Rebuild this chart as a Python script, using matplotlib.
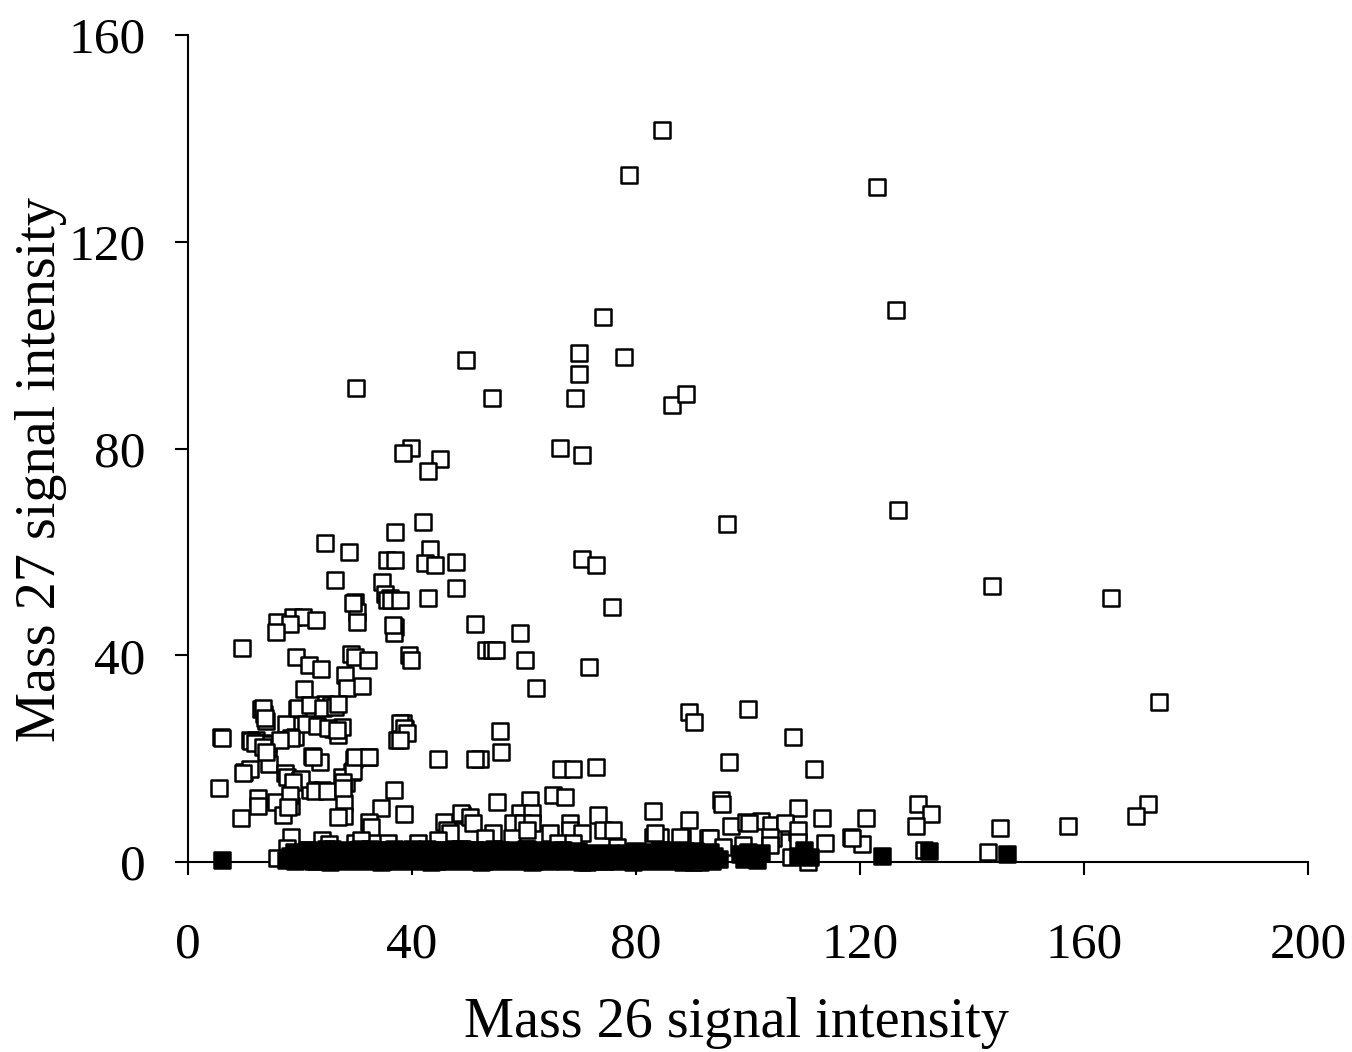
import matplotlib
matplotlib.use("Agg")
import matplotlib.pyplot as plt

plt.rcParams['font.family'] = ['Liberation Serif', 'DejaVu Serif']

# open squares: mass 27 vs mass 26
open_x = [84.6, 78.8, 123.0, 126.4, 74.1, 49.6, 69.8, 69.8, 77.9, 30.0,
          54.3, 69.1, 86.4, 88.9, 39.8, 38.4, 66.4, 70.4, 45.0, 42.9,
          96.3, 126.8, 42.0, 37.0, 24.5, 28.8, 43.2, 47.9, 35.5, 37.0,
          42.3, 44.1, 70.4, 72.9, 26.2, 34.6, 47.9, 35.2, 36.1, 42.9,
          75.7, 29.8, 30.2, 143.6, 164.8, 18.8, 20.5, 22.9, 15.9, 18.2,
          51.2, 15.7, 37.0, 36.8, 59.3, 53.2, 54.3, 55.0, 9.6, 19.3,
          29.1, 29.8, 32.1, 39.5, 39.9, 60.2, 21.6, 23.8, 71.6, 28.0,
          62.1, 20.7, 28.4, 31.1, 173.4, 13.0, 13.6, 24.5, 25.5, 19.5,
          22.3, 89.5, 90.4, 100.0, 13.9, 38.4, 38.8, 17.5, 21.3, 25.9,
          26.8, 5.9, 11.1, 12.1, 13.2, 14.3, 19.1, 27.5, 37.3, 55.7,
          108.0, 14.3, 22.1, 23.6, 29.6, 32.1, 44.6, 52.1, 55.9, 14.5,
          96.6, 111.8, 66.6, 68.8, 72.9, 10.0, 11.1, 17.3, 17.7, 20.0,
          29.3, 27.5, 28.2, 23.9, 21.8, 36.8, 12.5, 12.5, 15.7, 18.4,
          27.9, 34.5, 27.9, 65.2, 67.3, 95.2, 95.4, 130.4, 171.4, 169.3,
          132.7, 130.0, 145.0, 157.1, 9.5, 17.0, 38.6, 48.9, 61.1, 73.2,
          83.0, 89.5, 102.3, 108.9, 113.2, 121.1, 118.4, 120.4, 104.1, 106.6,
          108.8, 104.5, 142.9, 131.4, 97.0, 84.1, 92.9, 13.4, 13.8, 19.6,
          21.8, 24.1, 26.3, 26.8, 21.1, 23.0, 25.0, 26.6, 18.4, 16.4,
          6.1, 11.3, 12.0, 13.4, 13.9, 22.3, 9.8, 20.2, 18.8, 5.5,
          18.2, 17.9, 22.7, 24.8, 29.5, 27.7, 27.7, 29.8, 32.3, 26.8,
          32.3, 32.7, 18.4, 17.7, 15.9, 23.9, 25.2, 29.8, 30.9, 45.7,
          46.3, 46.8, 48.8, 50.4, 50.9, 51.3, 37.9, 38.6, 39.1, 37.9,
          36.6, 30.2, 29.5, 35.5, 36.3, 37.8, 55.2, 59.3, 61.4, 58.0,
          59.8, 61.4, 54.5, 53.0, 64.6, 68.2, 68.2, 74.1, 75.9, 70.4,
          83.0, 84.3, 88.2, 93.2, 95.5, 66.1, 68.8, 71.3, 90.2, 91.4,
          99.6, 100.2, 106.6, 108.9, 108.9, 103.9, 103.9, 113.8, 118.6, 110.7,
          99.1, 107.7, 35.7, 57.9, 60.5, 76.6, 83.4, 87.9, 41.0, 44.6]
open_y = [141.6, 132.9, 130.6, 106.8, 105.4, 97.1, 98.5, 94.4, 97.7, 91.7,
          89.7, 89.7, 88.4, 90.5, 80.1, 79.1, 80.1, 78.7, 77.9, 75.6,
          65.4, 68.1, 65.8, 63.8, 61.7, 60.0, 60.5, 58.0, 58.4, 58.4,
          57.8, 57.4, 58.6, 57.4, 54.5, 54.2, 53.0, 51.8, 51.1, 51.1,
          49.3, 50.3, 48.4, 53.4, 51.1, 47.4, 47.4, 46.8, 46.4, 46.0,
          46.0, 44.5, 45.5, 44.3, 44.3, 41.0, 41.0, 41.0, 41.4, 39.7,
          40.2, 39.7, 39.1, 40.0, 39.1, 39.1, 38.1, 37.3, 37.7, 36.2,
          33.7, 33.5, 33.7, 34.0, 30.9, 29.6, 28.6, 30.6, 30.4, 29.6,
          29.4, 29.0, 27.1, 29.6, 27.3, 26.9, 25.7, 26.7, 27.5, 25.7,
          24.6, 24.2, 23.6, 23.6, 23.0, 22.8, 24.2, 26.1, 23.6, 25.3,
          24.2, 21.3, 20.5, 19.3, 19.9, 20.3, 19.9, 19.9, 21.3, 19.0,
          19.3, 18.0, 18.0, 18.0, 18.4, 17.4, 18.0, 17.2, 16.4, 15.9,
          17.4, 16.4, 15.3, 13.9, 13.9, 13.9, 12.4, 10.8, 11.6, 10.8,
          11.4, 10.4, 8.9, 13.0, 12.6, 12.0, 11.2, 11.2, 11.2, 8.9,
          9.3, 7.0, 6.6, 7.0, 8.5, 9.1, 9.3, 9.1, 12.0, 9.1,
          9.9, 8.1, 7.9, 10.4, 8.5, 8.5, 4.8, 3.5, 7.2, 7.0,
          5.8, 4.6, 1.9, 2.3, 7.0, 4.6, 4.6, 29.8, 27.9, 29.8,
          30.4, 29.8, 30.0, 30.6, 26.7, 26.3, 25.9, 25.5, 24.0, 23.6,
          24.0, 23.4, 23.0, 22.2, 21.3, 20.3, 17.2, 16.1, 15.5, 14.3,
          13.0, 10.6, 13.7, 13.7, 17.6, 15.5, 14.3, 20.3, 20.3, 8.7,
          7.7, 6.8, 4.8, 2.7, 0.8, 4.3, 3.5, 3.7, 4.3, 7.7,
          6.2, 5.6, 9.5, 8.7, 7.5, 19.9, 26.9, 25.9, 25.0, 23.6,
          45.8, 46.4, 50.1, 50.7, 50.7, 50.7, 11.6, 9.5, 9.5, 7.5,
          7.5, 7.5, 5.6, 4.6, 5.6, 7.5, 6.2, 6.2, 6.2, 5.6,
          4.8, 4.8, 4.6, 4.6, 2.9, 3.7, 3.7, 0.0, 0.0, 0.0,
          7.7, 7.5, 7.5, 6.2, 3.9, 4.8, 3.3, 3.7, 4.6, 0.0,
          3.3, 1.0, 3.7, 4.6, 6.2, 2.9, 5.6, 4.8, 3.7, 4.2]

# filled squares: background signal near zero
filled_x = [6.0, 17.5, 18.3, 19.0, 19.8, 20.5, 21.2, 22.0, 22.8, 23.5,
            24.3, 25.0, 25.8, 26.5, 27.3, 28.0, 28.8, 29.5, 30.3, 31.0,
            31.8, 32.5, 33.3, 34.0, 34.8, 35.5, 36.3, 37.0, 37.8, 38.5,
            39.3, 40.0, 40.8, 41.5, 42.3, 43.0, 43.8, 44.5, 45.3, 46.0,
            46.8, 47.5, 48.3, 49.0, 49.8, 50.5, 51.3, 52.0, 52.8, 53.5,
            54.3, 55.0, 55.8, 56.5, 57.3, 58.0, 58.8, 59.5, 60.3, 61.0,
            61.8, 62.5, 63.3, 64.0, 64.8, 65.5, 66.3, 67.0, 67.8, 68.5,
            69.3, 70.0, 70.8, 71.5, 72.3, 73.0, 73.8, 74.5, 75.3, 76.0,
            76.8, 77.5, 78.3, 79.0, 79.8, 80.5, 81.3, 82.0, 82.8, 83.5,
            84.3, 85.0, 85.8, 86.5, 87.3, 88.0, 88.8, 89.5, 91.0, 91.8,
            92.5, 93.3, 94.0, 94.8, 98.5, 99.3, 100.0, 100.8, 101.6, 102.3,
            109.0, 110.0, 111.0, 124.0, 132.3, 146.3,
            20.0, 23.0, 26.0, 29.0, 32.0, 35.0, 38.0, 41.0, 44.0, 47.0,
            50.0, 53.0, 56.0, 59.0, 62.0, 65.0, 68.0, 71.0, 74.0, 77.0,
            80.0, 83.0, 86.0, 89.0, 92.0, 99.5,
            21.4, 24.6, 27.8, 30.7, 33.9, 36.8, 39.9, 42.7, 45.6, 48.6,
            51.6, 54.7, 57.6, 60.6, 63.6, 66.7, 69.6, 84.6, 87.6, 90.6,
            19.2, 22.4, 25.4, 28.4, 31.4, 34.4, 37.4, 40.4, 43.4, 46.4,
            49.4, 52.4, 55.4, 58.4, 61.4, 64.4, 67.4, 70.4, 73.4, 76.4,
            79.4, 82.4, 85.4, 88.4, 93.6]
filled_y = [0.4, 0.3, 1.2, 2.0, 0.6, 1.8, 2.4, 1.0, 0.2, 2.2,
            1.5, 0.5, 2.5, 1.1, 0.3, 2.0, 1.4, 0.7, 2.3, 1.6,
            0.4, 2.5, 1.0, 1.9, 0.2, 2.4, 1.3, 0.6, 2.1, 1.7,
            0.3, 2.5, 0.9, 1.8, 0.5, 2.2, 1.2, 0.1, 2.4, 1.5,
            0.8, 2.0, 0.4, 2.5, 1.1, 0.6, 2.3, 1.4, 0.2, 2.0,
            1.6, 0.5, 2.4, 1.0, 0.3, 2.1, 1.7, 0.8, 2.5, 1.2,
            0.2, 2.2, 1.5, 0.6, 2.0, 1.1, 0.4, 2.3, 1.3, 0.7,
            1.9, 0.3, 1.6, 0.9, 1.8, 0.5, 1.4, 0.2, 1.7, 0.6,
            1.2, 0.4, 1.8, 0.8, 2.2, 1.0, 0.3, 2.0, 1.5, 0.6,
            2.3, 1.1, 0.4, 1.9, 1.4, 0.7, 2.1, 1.0, 0.4, 1.6,
            0.8, 2.0, 1.2, 0.5, 1.5, 0.6, 2.0, 1.1, 0.4, 1.8,
            1.2, 2.3, 1.0, 1.2, 2.1, 1.5,
            1.5, 1.0, 1.8, 1.2, 1.6, 0.9, 1.4, 1.9, 1.1, 1.7,
            1.3, 0.8, 1.6, 1.2, 1.9, 1.0, 1.5, 0.9, 1.2, 1.4,
            1.0, 1.6, 1.2, 1.5, 1.1, 1.3,
            2.4, 2.5, 2.3, 2.6, 2.4, 2.5, 2.3, 2.6, 2.4, 2.5,
            2.3, 2.6, 2.4, 2.5, 2.3, 2.4, 2.2, 2.3, 2.4, 2.2,
            0.1, 0.2, 0.0, 0.1, 0.2, 0.0, 0.1, 0.2, 0.0, 0.1,
            0.2, 0.0, 0.1, 0.2, 0.0, 0.1, 0.2, 0.0, 0.1, 0.2,
            0.0, 0.1, 0.2, 0.0, 0.1]

x_ticks = [0, 40, 80, 120, 160, 200]
y_ticks = [0, 40, 80, 120, 160]

fig = plt.figure(figsize=(13.52, 10.52), dpi=100)
ax = fig.add_axes([0.139, 0.1806, 0.8285, 0.7861])

ax.scatter(open_x, open_y, marker="s", s=120, facecolors="white",
           edgecolors="black", linewidths=1.8, zorder=3)
ax.scatter(filled_x, filled_y, marker="s", s=120, facecolors="black",
           edgecolors="black", linewidths=1.8, zorder=4)

ax.set_xlim(0, 200)
ax.set_ylim(0, 160)
ax.set_xticks(x_ticks)
ax.set_yticks(y_ticks)
ax.spines["top"].set_visible(False)
ax.spines["right"].set_visible(False)
for sp in ("left", "bottom"):
    ax.spines[sp].set_linewidth(1.5)
ax.tick_params(axis="both", direction="out", length=9.5, width=1.5,
               labelsize=37)
ax.tick_params(axis="y", pad=21)
ax.tick_params(axis="x", pad=34)

ax.set_xlabel("Mass 26 signal intensity", fontsize=40.5)
ax.set_ylabel("Mass 27 signal intensity", fontsize=40.5)
ax.xaxis.set_label_coords(0.49, -0.163)
ax.yaxis.set_label_coords(-0.108, 0.475)

for sp in ax.spines.values():
    sp.set_clip_on(False)
for coll in ax.collections:
    coll.set_clip_on(False)

fig.savefig("out.png", dpi=100)
